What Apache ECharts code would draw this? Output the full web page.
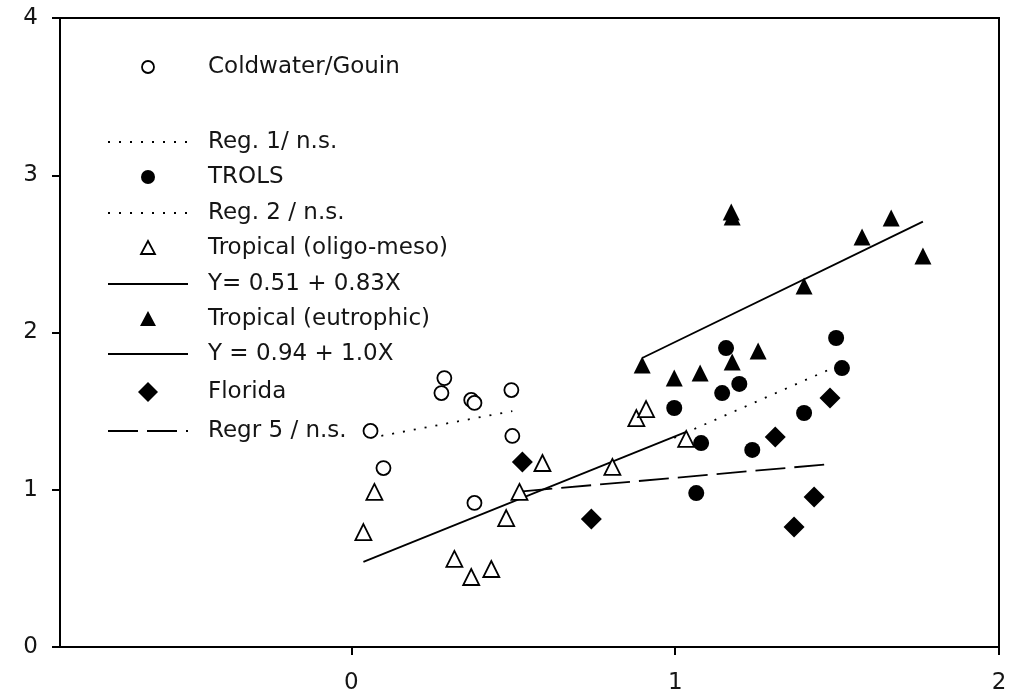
<!DOCTYPE html>
<html><head><meta charset="utf-8">
<script src="https://cdn.jsdelivr.net/npm/echarts@6/dist/echarts.min.js"></script>
<style>html,body{margin:0;padding:0;background:#fff}#c{width:1018px;height:698px}</style>
</head><body><div id="c"></div>
<script>
// ---- data ----
const coldwaterX = [0.059, 0.099, 0.278, 0.287, 0.370, 0.380, 0.494, 0.497, 0.380];
const coldwaterY = [1.374, 1.138, 1.615, 1.710, 1.571, 1.552, 1.634, 1.342, 0.916];

const trolsX = [0.997, 1.080, 1.065, 1.145, 1.198, 1.157, 1.238, 1.398, 1.497, 1.515];
const trolsY = [1.520, 1.297, 0.979, 1.615, 1.673, 1.901, 1.253, 1.488, 1.965, 1.774];

const oligoX = [0.037, 0.071, 0.318, 0.370, 0.432, 0.478, 0.519, 0.590, 0.806, 0.880, 0.910, 1.034];
const oligoY = [0.731, 0.986, 0.560, 0.445, 0.496, 0.820, 0.986, 1.170, 1.145, 1.456, 1.513, 1.323];

const eutroX = [0.898, 0.997, 1.077, 1.176, 1.256, 1.173, 1.176, 1.398, 1.577, 1.667, 1.765];
const eutroY = [1.793, 1.711, 1.742, 1.812, 1.882, 2.766, 2.734, 2.296, 2.607, 2.728, 2.486];

const floridaX = [0.528, 0.741, 1.309, 1.367, 1.429, 1.478];
const floridaY = [1.176, 0.814, 1.335, 0.763, 0.954, 1.583];

// regression line end points
const reg1X = [0.059, 0.497], reg1Y = [1.33, 1.50];
const reg2X = [0.997, 1.515], reg2Y = [1.33, 1.80];
const reg3X = [0.037, 1.034], reg3Y = [0.541, 1.368];
const reg4X = [0.898, 1.765], reg4Y = [1.838, 2.705];
const reg5X = [0.528, 1.460], reg5Y = [0.99, 1.16];

const xTicks = [0, 1, 2];

const legendLabels = ['Coldwater/Gouin', 'Reg. 1/ n.s.', 'TROLS', 'Reg. 2 / n.s.',
  'Tropical (oligo-meso)', 'Y= 0.51 + 0.83X', 'Tropical (eutrophic)',
  'Y = 0.94 + 1.0X', 'Florida', 'Regr 5 / n.s.'];

// ---- build ----
const zip = (xs, ys) => xs.map((x, i) => [x, ys[i]]);
const FONT = 'DejaVu Sans';
const FS = 23;
const TXT = '#151515';
const DOT = [2, 9], DASH = [30, 9];

function lineSeries(name, xs, ys, type) {
  return {
    name, type: 'line', data: zip(xs, ys), symbol: 'none', z: 2, silent: true,
    lineStyle: { color: '#000', width: 1.8, type: type, opacity: 1 },
    itemStyle: { color: '#000' }
  };
}
function scatter(name, xs, ys, symbol, size, open) {
  return {
    name, type: 'scatter', data: zip(xs, ys), symbol, symbolSize: size, z: 3, silent: true,
    itemStyle: open ? { color: '#fff', borderColor: '#000', borderWidth: 1.8, opacity: 1 }
                    : { color: '#000', borderColor: '#000', borderWidth: 0, opacity: 1 }
  };
}

// legend drawn as graphic (kinds: marker symbols or line samples)
const legendKinds = ['openCircle', 'dot', 'fillCircle', 'dot', 'openTri', 'solid', 'fillTri', 'solid', 'diamond', 'dash'];
const legendRowY = [67, 142, 177, 213, 248, 284, 319, 354, 392, 431];
const LX0 = 108, LX1 = 188, LXC = 148, TX = 208;
function legendIcon(kind, y) {
  const stroke = { stroke: '#000', lineWidth: 1.8 };
  switch (kind) {
    case 'openCircle': return { type: 'circle', shape: { cx: LXC, cy: y, r: 6 }, style: { fill: '#fff', ...stroke } };
    case 'fillCircle': return { type: 'circle', shape: { cx: LXC, cy: y, r: 7 }, style: { fill: '#000' } };
    case 'openTri': return { type: 'polygon', shape: { points: [[LXC, y - 7], [LXC + 7, y + 6], [LXC - 7, y + 6]] }, style: { fill: '#fff', ...stroke } };
    case 'fillTri': return { type: 'polygon', shape: { points: [[LXC, y - 8], [LXC + 8, y + 7], [LXC - 8, y + 7]] }, style: { fill: '#000' } };
    case 'diamond': return { type: 'polygon', shape: { points: [[LXC, y - 10], [LXC + 10, y], [LXC, y + 10], [LXC - 10, y]] }, style: { fill: '#000' } };
    case 'dot': return { type: 'line', shape: { x1: LX0, y1: y, x2: LX1, y2: y }, style: { ...stroke, lineDash: DOT } };
    case 'dash': return { type: 'line', shape: { x1: LX0, y1: y, x2: LX1, y2: y }, style: { ...stroke, lineDash: DASH } };
    default: return { type: 'line', shape: { x1: LX0, y1: y, x2: LX1, y2: y }, style: { ...stroke } };
  }
}
const graphics = [];
legendLabels.forEach((lab, i) => {
  const y = legendRowY[i];
  graphics.push(legendIcon(legendKinds[i], y));
  graphics.push({ type: 'text', x: TX, y: y, style: { text: lab, fill: TXT, fontFamily: FONT, fontSize: FS, verticalAlign: 'middle' } });
});

const option = {
  animation: false,
  backgroundColor: '#fff',
  grid: { left: 60, right: 19, top: 18, bottom: 51, show: true, borderColor: '#000', borderWidth: 2, backgroundColor: 'transparent' },
  xAxis: {
    type: 'value', min: -0.9, max: 2,
    axisLine: { show: true, onZero: false, lineStyle: { color: '#000', width: 2 } },
    axisTick: { show: true, customValues: xTicks, length: 8, lineStyle: { color: '#000', width: 2 } },
    axisLabel: { customValues: xTicks, color: TXT, fontFamily: FONT, fontSize: FS, margin: 25 },
    splitLine: { show: false }
  },
  yAxis: {
    type: 'value', min: 0, max: 4, interval: 1,
    axisLine: { show: true, onZero: false, lineStyle: { color: '#000', width: 2 } },
    axisTick: { show: true, length: 8, lineStyle: { color: '#000', width: 2 } },
    axisLabel: { color: TXT, fontFamily: FONT, fontSize: FS, margin: 22 },
    splitLine: { show: false }
  },
  graphic: graphics,
  series: [
    lineSeries('Reg. 1/ n.s.', reg1X, reg1Y, DOT),
    lineSeries('Reg. 2 / n.s.', reg2X, reg2Y, DOT),
    lineSeries('Y= 0.51 + 0.83X', reg3X, reg3Y, 'solid'),
    lineSeries('Y = 0.94 + 1.0X', reg4X, reg4Y, 'solid'),
    lineSeries('Regr 5 / n.s.', reg5X, reg5Y, DASH),
    scatter('Coldwater/Gouin', coldwaterX, coldwaterY, 'circle', 14, true),
    scatter('TROLS', trolsX, trolsY, 'circle', 16, false),
    scatter('Tropical (oligo-meso)', oligoX, oligoY, 'triangle', 16, true),
    scatter('Tropical (eutrophic)', eutroX, eutroY, 'triangle', 17, false),
    scatter('Florida', floridaX, floridaY, 'diamond', 21, false)
  ]
};

const chart = echarts.init(document.getElementById('c'), null, { renderer: 'canvas' });
chart.setOption(option);
</script>
</body></html>
